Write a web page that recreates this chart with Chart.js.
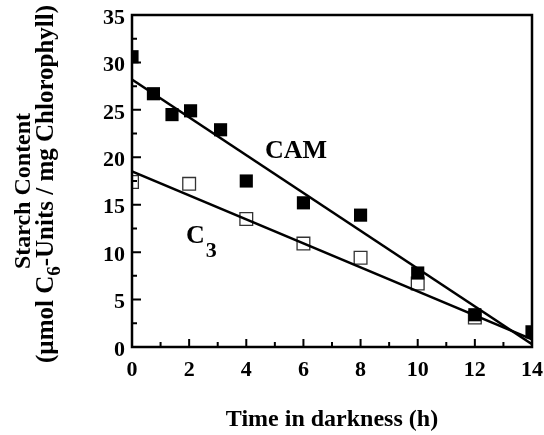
<!DOCTYPE html>
<html lang="en">
<head>
  <meta charset="utf-8">
  <title>Starch content in darkness</title>
  <style>
    html, body { margin: 0; padding: 0; background: #fff; }
    #box { position: relative; width: 544px; height: 435px; }
  </style>
</head>
<body>
  <div id="box"><canvas id="chart"></canvas></div>

  <script src="https://cdn.jsdelivr.net/npm/chart.js"></script>
  <script>
    // CAM plant (filled squares)
    const camHours = [0, 0.75, 1.4, 2.05, 3.1, 4, 6, 8, 10, 12, 14];
    const camStarch = [30.6, 26.7, 24.5, 24.9, 22.9, 17.5, 15.2, 13.9, 7.8, 3.4, 1.6];
    // C3 plant (open squares)
    const c3Hours = [0, 2, 4, 6, 8, 10, 12];
    const c3Starch = [17.4, 17.2, 13.5, 10.9, 9.4, 6.7, 3.1];
    // regression lines, end points
    const fitHours = [0, 14];
    const camFit = [28.2, 0.3];
    const c3Fit = [18.5, 0.8];

    const xTicks = [0, 2, 4, 6, 8, 10, 12, 14];
    const yTicks = [0, 5, 10, 15, 20, 25, 30, 35];

    const serif = "'Liberation Serif', 'DejaVu Serif', serif";

    const pts = (xs, ys) => xs.map((x, i) => ({ x: x, y: ys[i] }));

    // no extra room for overhanging tick labels, the layout padding handles it
    const noPad = s => {
      s.paddingLeft = s.paddingRight = s.paddingTop = s.paddingBottom = 0;
    };

    // frame, inward ticks and the text that has subscripts
    const decor = {
      id: 'decor',
      afterDraw(chart) {
        const { ctx, chartArea: a, scales: { x, y } } = chart;
        ctx.save();
        ctx.strokeStyle = '#000';
        ctx.lineWidth = 2.5;
        ctx.strokeRect(a.left, a.top, a.right - a.left, a.bottom - a.top);

        ctx.lineWidth = 2;
        ctx.beginPath();
        for (let v = 1; v < 14; v++) {
          const px = x.getPixelForValue(v);
          const len = v % 2 == 0 ? 8 : 5;
          ctx.moveTo(px, a.bottom);
          ctx.lineTo(px, a.bottom - len);
        }
        for (let v = 2.5; v < 35; v += 2.5) {
          const py = y.getPixelForValue(v);
          const len = v % 5 == 0 ? 9 : 5;
          ctx.moveTo(a.left, py);
          ctx.lineTo(a.left + len, py);
        }
        ctx.stroke();

        ctx.fillStyle = '#000';
        // x title
        ctx.font = 'bold 24px ' + serif;
        ctx.textAlign = 'center';
        ctx.textBaseline = 'alphabetic';
        ctx.fillText('Time in darkness (h)', (a.left + a.right) / 2, 426);

        // y title, two rotated lines
        ctx.save();
        ctx.translate(30, 191);
        ctx.rotate(-Math.PI / 2);
        ctx.fillText('Starch Content', 0, 0);
        ctx.restore();

        ctx.save();
        ctx.translate(53, 184);
        ctx.rotate(-Math.PI / 2);
        ctx.textAlign = 'left';
        const p1 = '(\u00b5mol C', p2 = '6', p3 = '-Units / mg Chlorophyll)';
        ctx.font = 'bold 25px ' + serif;
        const w1 = ctx.measureText(p1).width, w3 = ctx.measureText(p3).width;
        ctx.font = 'bold 19px ' + serif;
        const w2 = ctx.measureText(p2).width;
        let sx = -(w1 + w2 + w3) / 2;
        ctx.font = 'bold 25px ' + serif;
        ctx.fillText(p1, sx, 0);
        ctx.font = 'bold 19px ' + serif;
        ctx.fillText(p2, sx + w1, 7);
        ctx.font = 'bold 25px ' + serif;
        ctx.fillText(p3, sx + w1 + w2, 0);
        ctx.restore();

        // series labels
        ctx.textAlign = 'left';
        ctx.font = 'bold 26px ' + serif;
        ctx.fillText('CAM', 265, 158);
        ctx.fillText('C', 186, 243);
        const cw = ctx.measureText('C').width;
        ctx.font = 'bold 22px ' + serif;
        ctx.fillText('3', 186 + cw + 1, 257);
        ctx.restore();
      }
    };

    new Chart(document.getElementById('chart'), {
      type: 'scatter',
      data: {
        datasets: [
          {
            label: 'CAM fit',
            data: pts(fitHours, camFit),
            showLine: true,
            borderColor: '#000',
            borderWidth: 2.5,
            pointRadius: 0,
            order: 0,
            clip: 0
          },
          {
            label: 'C3 fit',
            data: pts(fitHours, c3Fit),
            showLine: true,
            borderColor: '#000',
            borderWidth: 2.5,
            pointRadius: 0,
            order: 0,
            clip: 0
          },
          {
            label: 'CAM',
            data: pts(camHours, camStarch),
            pointStyle: 'rect',
            pointRadius: 9.3,
            backgroundColor: '#000',
            borderColor: '#000',
            borderWidth: 0,
            order: 1,
            clip: 0
          },
          {
            label: 'C3',
            data: pts(c3Hours, c3Starch),
            pointStyle: 'rect',
            pointRadius: 9,
            backgroundColor: '#fff',
            borderColor: '#333',
            borderWidth: 1.3,
            order: 2,
            clip: 0
          }
        ]
      },
      options: {
        responsive: true,
        maintainAspectRatio: false,
        animation: false,
        layout: { padding: { left: 0, top: 15, right: 12, bottom: 0 } },
        plugins: {
          legend: { display: false },
          tooltip: { enabled: false }
        },
        scales: {
          x: {
            type: 'linear',
            min: 0,
            max: 14,
            afterFit: s => { s.height = 88; noPad(s); },
            afterBuildTicks: s => { s.ticks = xTicks.map(v => ({ value: v })); },
            grid: { display: false, drawTicks: false },
            border: { display: false },
            ticks: {
              color: '#000',
              padding: 10,
              font: { family: serif, size: 22, weight: 'bold' }
            }
          },
          y: {
            min: 0,
            max: 35,
            afterFit: s => { s.width = 132; noPad(s); },
            afterBuildTicks: s => { s.ticks = yTicks.map(v => ({ value: v })); },
            grid: { display: false, drawTicks: false },
            border: { display: false },
            ticks: {
              color: '#000',
              padding: 7,
              labelOffset: 3,
              font: { family: serif, size: 22, weight: 'bold' }
            }
          }
        }
      },
      plugins: [decor]
    });
  </script>
</body>
</html>
